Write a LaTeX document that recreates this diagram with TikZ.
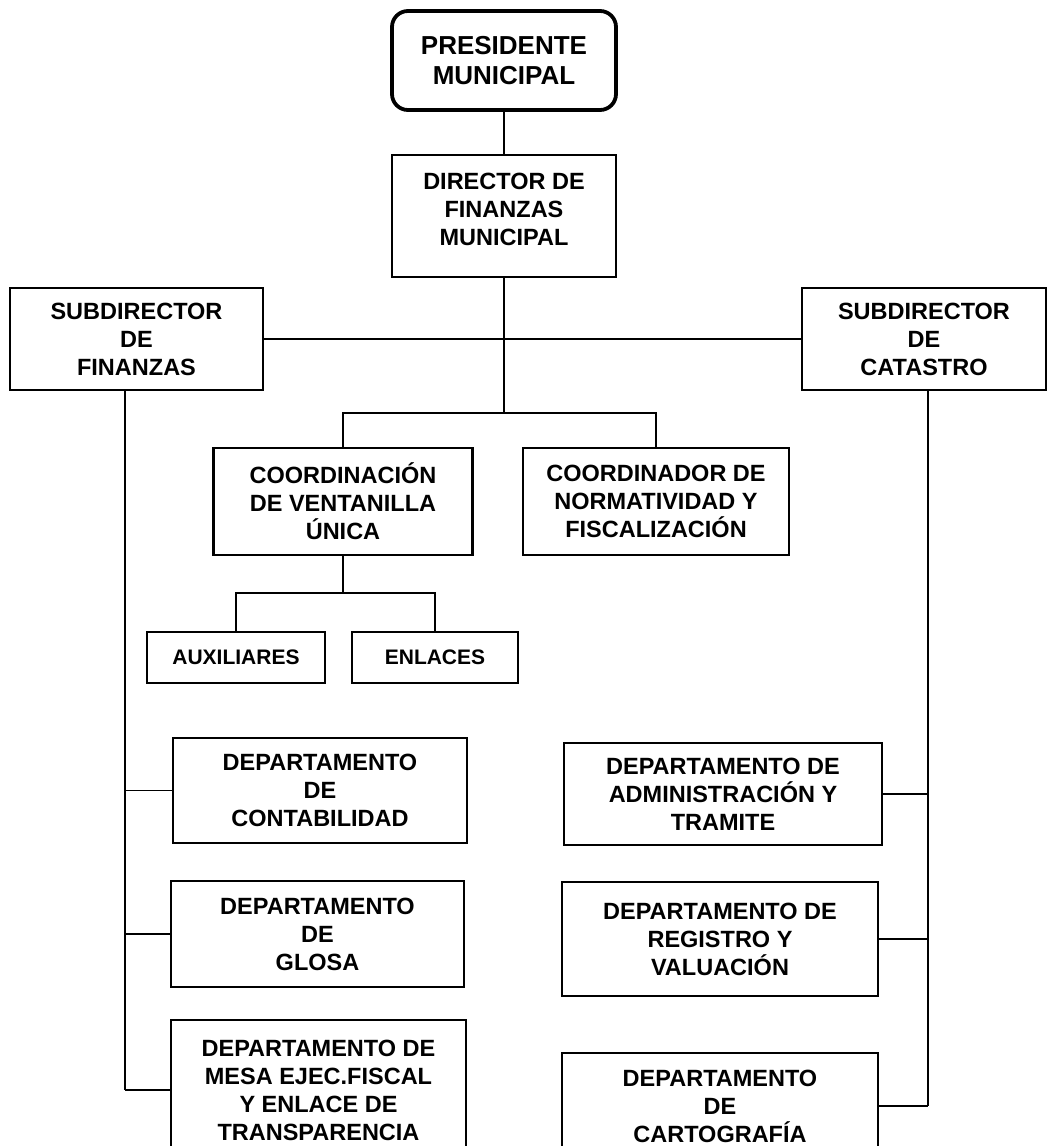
\documentclass[tikz,border=0pt]{standalone}
\usepackage{fontspec}
\setmainfont{Liberation Sans}

\begin{document}
\begin{tikzpicture}[x=1pt,y=-1pt,
  cargo/.style={draw,line width=2.8pt,align=center,inner sep=0pt,
    font=\bfseries\fontsize{23.5}{28}\selectfont},
  jefe/.style={cargo,rounded corners=16pt,line width=3.8pt,
    font=\bfseries\fontsize{26}{30}\selectfont},
  chico/.style={cargo,font=\bfseries\fontsize{21}{25}\selectfont},
  liga/.style={line width=1.2pt}]
  \useasboundingbox[fill=white] (0,0) rectangle (1049,1146);
  \clip (0,0) rectangle (1049,1146);

  %top
  \node[jefe,minimum width=224pt,minimum height=99pt] (pres) at (504,60.5) {PRESIDENTE\\MUNICIPAL};
  \node[cargo,minimum width=224pt,minimum height=122pt,text depth=14pt] (dir) at (504,216) {DIRECTOR DE\\FINANZAS\\MUNICIPAL};
  \node[cargo,minimum width=253pt,minimum height=102pt] (subfin) at (136.5,339) {SUBDIRECTOR\\DE\\FINANZAS};
  \node[cargo,minimum width=244pt,minimum height=102pt] (subcat) at (924,339) {SUBDIRECTOR\\DE\\CATASTRO};

  %coordinaciones
  \node[cargo,minimum width=259pt,minimum height=107pt] (vent) at (343,501.5) {COORDINACIÓN\\DE VENTANILLA\\ÚNICA};
  \node[cargo,minimum width=266pt,minimum height=107pt] (norm) at (656,501.5) {COORDINADOR DE\\NORMATIVIDAD Y\\FISCALIZACIÓN};
  \node[chico,minimum width=178pt,minimum height=51pt] (aux) at (236,657.5) {AUXILIARES};
  \node[chico,minimum width=166pt,minimum height=51pt] (enl) at (435,657.5) {ENLACES};

  %departamentos
  \node[cargo,minimum width=294pt,minimum height=105pt] (contab) at (320,790.5) {DEPARTAMENTO\\DE\\CONTABILIDAD};
  \node[cargo,minimum width=293pt,minimum height=106pt] (glosa) at (317.5,934) {DEPARTAMENTO\\DE\\GLOSA};
  \node[cargo,minimum width=295pt,minimum height=140pt] (mesa) at (318.5,1090) {DEPARTAMENTO DE\\MESA EJEC.FISCAL\\Y ENLACE DE\\TRANSPARENCIA};
  \node[cargo,minimum width=318pt,minimum height=102pt] (admin) at (723,794) {DEPARTAMENTO DE\\ADMINISTRACIÓN Y\\TRAMITE};
  \node[cargo,minimum width=316pt,minimum height=114pt] (registro) at (720,939) {DEPARTAMENTO DE\\REGISTRO Y\\VALUACIÓN};
  \node[cargo,minimum width=316pt,minimum height=106pt] (carto) at (720,1106) {DEPARTAMENTO\\DE\\CARTOGRAFÍA};

  \coordinate (cruce) at (504,413);
  \coordinate (ventbus) at (343,593);
  \coordinate (finbus) at (125,0);
  \coordinate (catbus) at (928,0);

  \draw[liga] (pres.south) -- (dir.north);
  \draw[liga] (dir.south) -- (cruce);
  \draw[liga] (subfin.east) -- (subcat.west);
  \draw[liga] (vent.north) |- (cruce) -| (norm.north);
  \draw[liga] (vent.south) -- (ventbus);
  \draw[liga] (aux.north) |- (ventbus) -| (enl.north);

  %buses
  \draw[liga] (subfin.south -| finbus) -- (mesa.west -| finbus);
  \foreach \d in {contab,glosa,mesa} {
    \draw[liga] (\d.west) -- (\d.west -| finbus);  }
  \draw[liga] (subcat.south -| catbus) -- (carto.east -| catbus);
  \foreach \d in {admin,registro,carto} {
    \draw[liga] (\d.east) -- (\d.east -| catbus);  }

\end{tikzpicture}
\end{document}
